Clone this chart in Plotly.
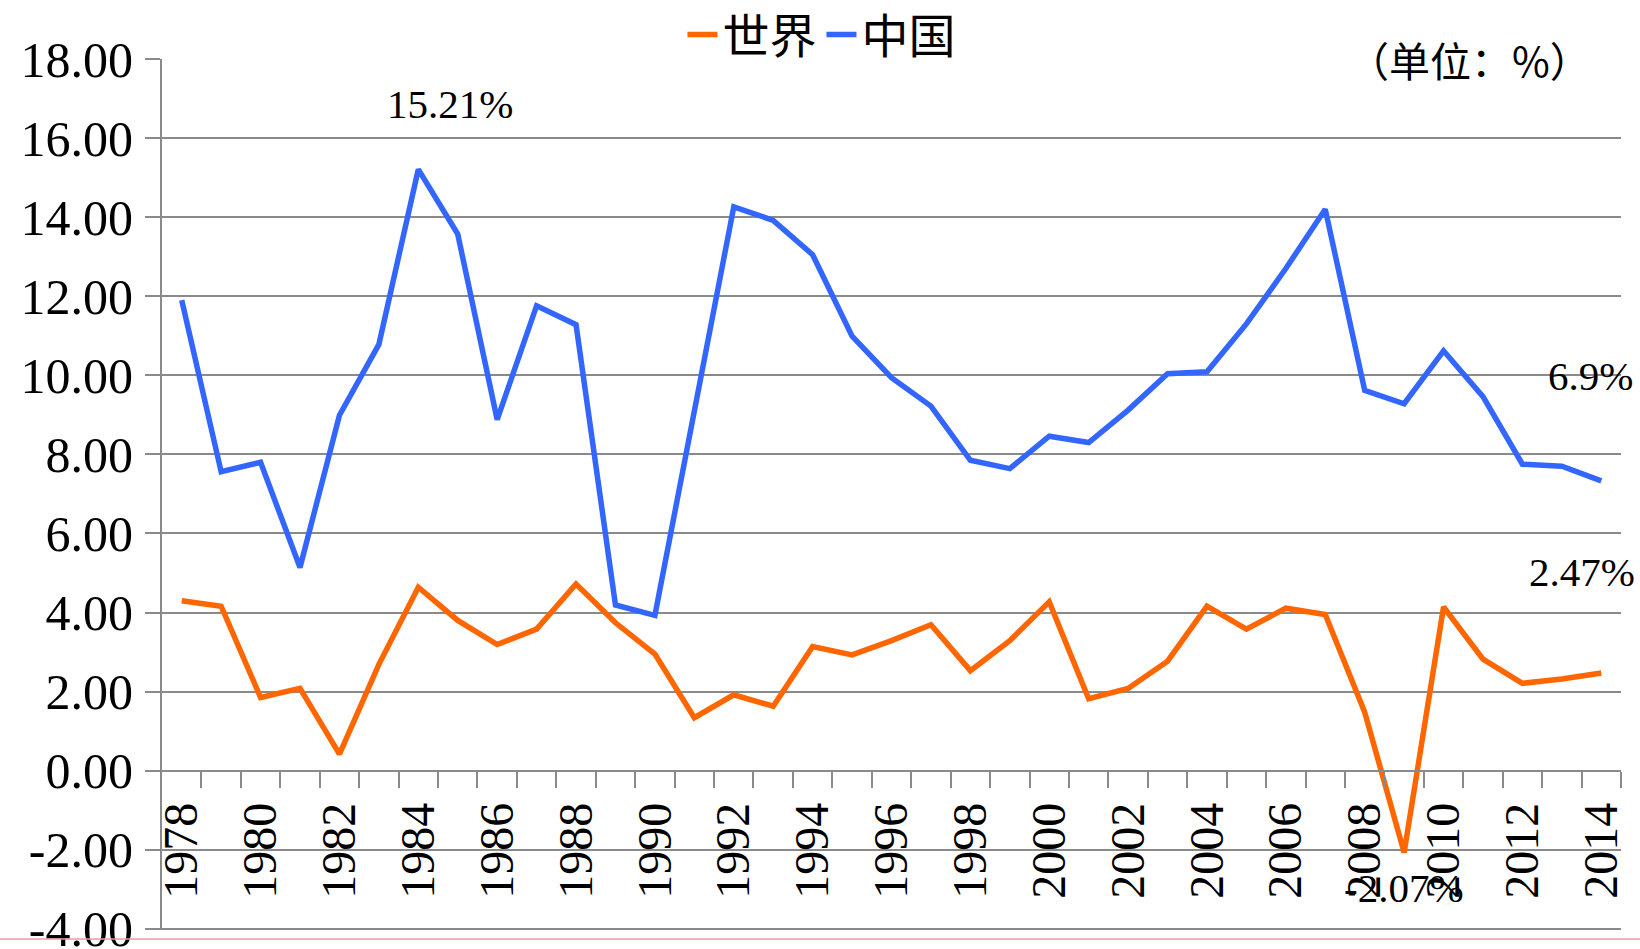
import plotly.graph_objects as go

years = list(range(1978, 2015))
world = [4.30, 4.16, 1.85, 2.08, 0.42, 2.69, 4.64, 3.80, 3.19, 3.58, 4.72, 3.74, 2.95,
         1.34, 1.92, 1.63, 3.14, 2.93, 3.29, 3.69, 2.53, 3.29, 4.27, 1.82, 2.08, 2.77,
         4.16, 3.58, 4.11, 3.95, 1.48, -2.07, 4.14, 2.82, 2.21, 2.32, 2.47]
china = [11.9, 7.56, 7.8, 5.14, 8.99, 10.78, 15.21, 13.57, 8.88, 11.76, 11.28, 4.19, 3.93,
         9.1, 14.26, 13.92, 13.05, 10.99, 9.94, 9.22, 7.85, 7.64, 8.46, 8.3, 9.12, 10.04,
         10.09, 11.3, 12.7, 14.2, 9.62, 9.28, 10.62, 9.46, 7.75, 7.7, 7.33]
series_names = ["世界", "中国"]
series_colors = ["#FF6600", "#3366FF"]
xtick_years = list(range(1978, 2015, 2))
ytick_vals = list(range(-4, 19, 2))

GRID = "#8a8a8a"
SERIF = "Liberation Serif, Noto Sans CJK SC"
CJK = "Noto Sans CJK SC"

fig = go.Figure()
for name, vals, col in zip(series_names, [world, china], series_colors):
    fig.add_trace(go.Scatter(x=years, y=vals, mode="lines", name=name,
                             line=dict(color=col, width=5.5)))

annos = [
    dict(x=1984.8, y=16.85, text="15.21%"),
    dict(x=2013.73, y=9.99, text="6.9%"),
    dict(x=2013.52, y=5.03, text="2.47%"),
    dict(x=2008.99, y=-2.98, text="-2.07%"),
]
for a in annos:
    fig.add_annotation(x=a["x"], y=a["y"], text=a["text"], showarrow=False,
                       xref="x", yref="y", font=dict(family=SERIF, size=41, color="black"))
fig.add_annotation(x=2010.66, y=17.99, text="（单位：%）", showarrow=False,
                   xref="x", yref="y", font=dict(family=CJK, size=41, color="black"))

# faint pink line at page bottom
fig.add_shape(type="line", xref="paper", yref="paper", x0=-0.12, x1=1.02,
              y0=-0.0103, y1=-0.0103, line=dict(color="#e0a0a0", width=1.5))

fig.update_layout(
    width=1640, height=949,
    margin=dict(l=162, r=19, t=59, b=19, autoexpand=False),
    paper_bgcolor="white", plot_bgcolor="white",
    showlegend=True,
    legend=dict(orientation="h", x=0.452, xanchor="center", y=1.0276, yanchor="middle",
                font=dict(family=CJK, size=47, color="black"), itemwidth=30,
                bgcolor="rgba(0,0,0,0)", tracegroupgap=0),
    font=dict(family=SERIF, color="black"),
)
fig.update_xaxes(
    range=[1977.5, 2014.5], anchor="free", position=4.03/22.03,
    showline=True, linecolor=GRID, linewidth=2,
    showgrid=False, zeroline=False,
    tickmode="array", tickvals=xtick_years, ticktext=[str(y) for y in xtick_years],
    tickangle=-90, ticks="outside", ticklen=16, tickcolor="rgba(0,0,0,0)",
    ticklabelstandoff=-4,
    tickfont=dict(family=SERIF, size=48, color="black"),
    minor=dict(tickmode="array", tickvals=[y - 0.5 for y in range(1979, 2016)],
               ticks="outside", ticklen=16, tickcolor=GRID, tickwidth=2, showgrid=False),
)
fig.update_yaxes(
    range=[-4.03, 18], domain=[0, 1],
    tickmode="array", tickvals=ytick_vals, ticktext=[f"{v:.2f}" for v in ytick_vals],
    showgrid=True, gridcolor=GRID, gridwidth=2,
    showline=True, linecolor=GRID, linewidth=2, zeroline=False,
    ticks="outside", ticklen=15, tickcolor=GRID, tickwidth=2,
    ticklabelstandoff=2, ticklabeloverflow="allow",
    tickfont=dict(family=SERIF, size=50, color="black"),
)
fig.write_html("out.html", config={"displayModeBar": False},
               post_script="document.body.style.margin='0';document.body.style.overflow='hidden';")
